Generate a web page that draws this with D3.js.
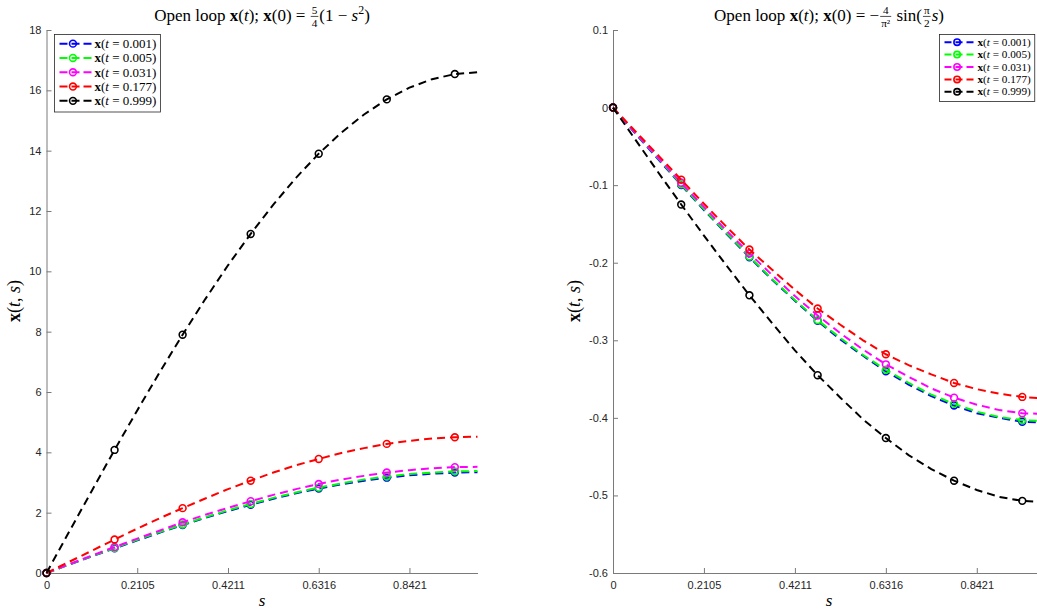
<!DOCTYPE html>
<html>
<head>
<meta charset="utf-8">
<script src="https://cdn.jsdelivr.net/npm/d3@7"></script>
<style>
  body { margin: 0; background: #fff; }
  svg { display: block; }
  text { white-space: pre; }
</style>
</head>
<body>
<script>
// grid in s (20 points), markers on every 3rd point
const sValues = [0, 0.0526, 0.1053, 0.1579, 0.2105, 0.2632, 0.3158, 0.3684, 0.4211, 0.4737,
                 0.5263, 0.5789, 0.6316, 0.6842, 0.7368, 0.7895, 0.8421, 0.8947, 0.9474, 1.0];
const tLabels = ["0.001", "0.005", "0.031", "0.177", "0.999"];
const seriesColors = ["#0000ff", "#00ff00", "#ff00ff", "#ff0000", "#000000"];

// left panel: x(0) = 5/4 (1 - s^2)
const leftBlue    = [0, 0.28, 0.55, 0.82, 1.08, 1.34, 1.59, 1.83, 2.05, 2.26, 2.46, 2.64, 2.80, 2.94, 3.06, 3.16, 3.24, 3.29, 3.33, 3.34];
const leftGreen   = [0, 0.28, 0.56, 0.83, 1.10, 1.36, 1.61, 1.85, 2.08, 2.29, 2.49, 2.67, 2.83, 2.97, 3.10, 3.20, 3.28, 3.33, 3.37, 3.38];
const leftMagenta = [0, 0.29, 0.58, 0.86, 1.14, 1.41, 1.68, 1.93, 2.16, 2.38, 2.59, 2.78, 2.95, 3.10, 3.22, 3.33, 3.41, 3.47, 3.51, 3.52];
const leftRed     = [0, 0.37, 0.74, 1.11, 1.47, 1.82, 2.15, 2.47, 2.78, 3.06, 3.33, 3.57, 3.78, 3.98, 4.14, 4.28, 4.38, 4.46, 4.50, 4.52];
const leftBlack   = [0, 1.37, 2.73, 4.08, 5.39, 6.67, 7.90, 9.08, 10.20, 11.24, 12.21, 13.10, 13.90, 14.60, 15.20, 15.70, 16.09, 16.37, 16.54, 16.60];

// right panel: x(0) = -4/pi^2 sin(pi/2 s)
const rightBlue    = [0, -0.034, -0.067, -0.100, -0.132, -0.163, -0.193, -0.222, -0.249, -0.275, -0.299, -0.320, -0.340, -0.357, -0.372, -0.384, -0.394, -0.400, -0.405, -0.406];
const rightGreen   = [0, -0.033, -0.066, -0.099, -0.131, -0.162, -0.192, -0.221, -0.248, -0.274, -0.297, -0.319, -0.338, -0.355, -0.370, -0.382, -0.392, -0.399, -0.403, -0.404];
const rightMagenta = [0, -0.033, -0.065, -0.097, -0.128, -0.159, -0.188, -0.216, -0.243, -0.268, -0.291, -0.312, -0.331, -0.347, -0.362, -0.374, -0.383, -0.390, -0.394, -0.395];
const rightRed     = [0, -0.031, -0.062, -0.093, -0.124, -0.154, -0.183, -0.209, -0.235, -0.259, -0.280, -0.300, -0.318, -0.332, -0.344, -0.355, -0.363, -0.369, -0.373, -0.375];
const rightBlack   = [0, -0.042, -0.084, -0.125, -0.165, -0.204, -0.242, -0.278, -0.313, -0.345, -0.374, -0.402, -0.426, -0.448, -0.466, -0.481, -0.493, -0.502, -0.507, -0.509];

const xTickValues = [0, 0.2105, 0.4211, 0.6316, 0.8421];
const xTickLabels = ["0", "0.2105", "0.4211", "0.6316", "0.8421"];
const leftYTicks = [0, 2, 4, 6, 8, 10, 12, 14, 16, 18];
const rightYTicks = [-0.6, -0.5, -0.4, -0.3, -0.2, -0.1, 0, 0.1];

const width = 1037, height = 614;
const serif = "'Liberation Serif', 'DejaVu Serif', serif";
const sans = "'Liberation Sans', Arial, sans-serif";

const svg = d3.select("body").append("svg")
  .attr("width", width)
  .attr("height", height);

// pieces: {t, b, i, sup} or {num, den}
function richText(g, pieces, size) {
  const holder = g.append("g");
  let x = 0;
  pieces.forEach(p => {
    if (p.num !== undefined) {
      const fs = size * 0.66;
      const a = holder.append("text").attr("font-size", fs).attr("y", -size * 0.4).text(p.num);
      const b = holder.append("text").attr("font-size", fs).attr("y", size * 0.36).text(p.den);
      const wa = a.node().getComputedTextLength(), wb = b.node().getComputedTextLength();
      const w = Math.max(wa, wb) + 2;
      a.attr("x", x + 1 + (w - wa) / 2);
      b.attr("x", x + 1 + (w - wb) / 2);
      holder.append("line")
        .attr("x1", x + 1).attr("x2", x + 1 + w)
        .attr("y1", -size * 0.27).attr("y2", -size * 0.27)
        .attr("stroke", "#000").attr("stroke-width", 0.7);
      x += w + 2;
    } else {
      const e = holder.append("text")
        .attr("x", x)
        .attr("y", p.sup ? -size * 0.4 : 0)
        .attr("font-size", p.sup ? size * 0.7 : size)
        .attr("font-weight", p.b ? "bold" : null)
        .attr("font-style", p.i ? "italic" : null)
        .text(p.t);
      x += e.node().getComputedTextLength();
    }
  });
  holder.attr("font-family", serif).attr("fill", "#000");
  return { g: holder, width: x };
}

function legendPieces(t) {
  return [{ t: "x", b: true }, { t: "(" }, { t: "t", i: true }, { t: " = " + t + ")" }];
}

function drawPanel(cfg) {
  const x = d3.scaleLinear().domain([0, 1]).range([cfg.x0, cfg.x1]);
  const y = d3.scaleLinear().domain(cfg.yDomain).range([573, 30]);
  const g = svg.append("g");

  // axes
  const xAxis = g.append("g")
    .attr("transform", "translate(0,573)")
    .call(d3.axisBottom(x).tickValues(xTickValues).tickSizeInner(-5).tickSizeOuter(0)
      .tickPadding(8).tickFormat((d, i) => xTickLabels[i]));
  const yAxis = g.append("g")
    .attr("transform", `translate(${cfg.x0},0)`)
    .call(d3.axisLeft(y).tickValues(cfg.yTicks).tickSizeInner(-5).tickSizeOuter(0)
      .tickPadding(5).tickFormat(d => String(Math.round(d * 10) / 10)));
  [xAxis, yAxis].forEach(a => {
    a.select(".domain").attr("stroke", "#7a7a7a");
    a.selectAll(".tick line").attr("stroke", "#7a7a7a");
    a.selectAll("text").attr("font-family", sans).attr("font-size", 11).attr("fill", "#262626");
  });
  xAxis.selectAll(".tick").filter(d => d === 0).select("line").remove();

  // lines + markers
  const line = d3.line().x((d, i) => x(sValues[i])).y(d => y(d));
  cfg.series.forEach((vals, k) => {
    g.append("path")
      .attr("d", line(vals))
      .attr("fill", "none")
      .attr("stroke", seriesColors[k])
      .attr("stroke-width", 2)
      .attr("stroke-dasharray", "8,5");
    g.selectAll(null)
      .data(vals.map((v, i) => [sValues[i], v]).filter((d, i) => i % 3 === 0))
      .join("circle")
      .attr("cx", d => x(d[0]))
      .attr("cy", d => y(d[1]))
      .attr("r", 3.4)
      .attr("fill", "none")
      .attr("stroke", seriesColors[k])
      .attr("stroke-width", 1.6);
  });

  // title
  const title = richText(g, cfg.title, 17);
  title.g.attr("transform", `translate(${(cfg.x0 + cfg.x1) / 2 - title.width / 2},21)`);

  // axis labels
  const xl = richText(g, [{ t: "s", i: true }], 17);
  xl.g.attr("transform", `translate(${(cfg.x0 + cfg.x1) / 2 - xl.width / 2},606)`);
  const yl = richText(g, [{ t: "x", b: true }, { t: "(" }, { t: "t", i: true }, { t: ", " }, { t: "s", i: true }, { t: ")" }], 18);
  yl.g.attr("transform", `translate(${cfg.yLabelX},${301 + yl.width / 2}) rotate(-90)`);

  // legend
  const lg = cfg.legend;
  const leg = g.append("g");
  const box = leg.append("rect")
    .attr("x", lg.x).attr("y", lg.y)
    .attr("fill", "#fff").attr("stroke", "#262626").attr("stroke-width", 0.8);
  let maxW = 0;
  tLabels.forEach((t, k) => {
    const cy = lg.y + lg.pad + lg.step * k + lg.step / 2 - 1;
    leg.append("line")
      .attr("x1", lg.x + 5).attr("x2", lg.x + 5 + lg.sample)
      .attr("y1", cy).attr("y2", cy)
      .attr("stroke", seriesColors[k]).attr("stroke-width", 2)
      .attr("stroke-dasharray", lg.dash);
    leg.append("circle")
      .attr("cx", lg.x + 5 + lg.sample * 0.42).attr("cy", cy).attr("r", lg.r)
      .attr("fill", "none").attr("stroke", seriesColors[k]).attr("stroke-width", 1.6);
    const rt = richText(leg, legendPieces(t), lg.font);
    rt.g.attr("transform", `translate(${lg.x + 8 + lg.sample},${cy + lg.font * 0.33})`);
    maxW = Math.max(maxW, rt.width);
  });
  box.attr("width", lg.sample + 12 + maxW)
    .attr("height", lg.pad * 2 + lg.step * tLabels.length);
}

drawPanel({
  x0: 46.5, x1: 477.5,
  yDomain: [0, 18], yTicks: leftYTicks, yLabelX: 20,
  series: [leftBlue, leftGreen, leftMagenta, leftRed, leftBlack],
  title: [{ t: "Open loop " }, { t: "x", b: true }, { t: "(" }, { t: "t", i: true }, { t: "); " },
          { t: "x", b: true }, { t: "(0) = " }, { num: "5", den: "4" }, { t: "(1 − " }, { t: "s", i: true },
          { t: "2", sup: true }, { t: ")" }],
  legend: { x: 54.5, y: 34.5, pad: 3, step: 14.3, sample: 32, dash: "8,4", r: 3.4, font: 13 }
});

drawPanel({
  x0: 613, x1: 1045,
  yDomain: [-0.6, 0.1], yTicks: rightYTicks, yLabelX: 580,
  series: [rightBlue, rightGreen, rightMagenta, rightRed, rightBlack],
  title: [{ t: "Open loop " }, { t: "x", b: true }, { t: "(" }, { t: "t", i: true }, { t: "); " },
          { t: "x", b: true }, { t: "(0) = −" }, { num: "4", den: "π²" }, { t: " sin(" }, { num: "π", den: "2" },
          { t: "s", i: true }, { t: ")" }],
  legend: { x: 939.5, y: 34.5, pad: 2.5, step: 12.4, sample: 30, dash: "7,4", r: 3.2, font: 11.2 }
});
</script>
</body>
</html>
